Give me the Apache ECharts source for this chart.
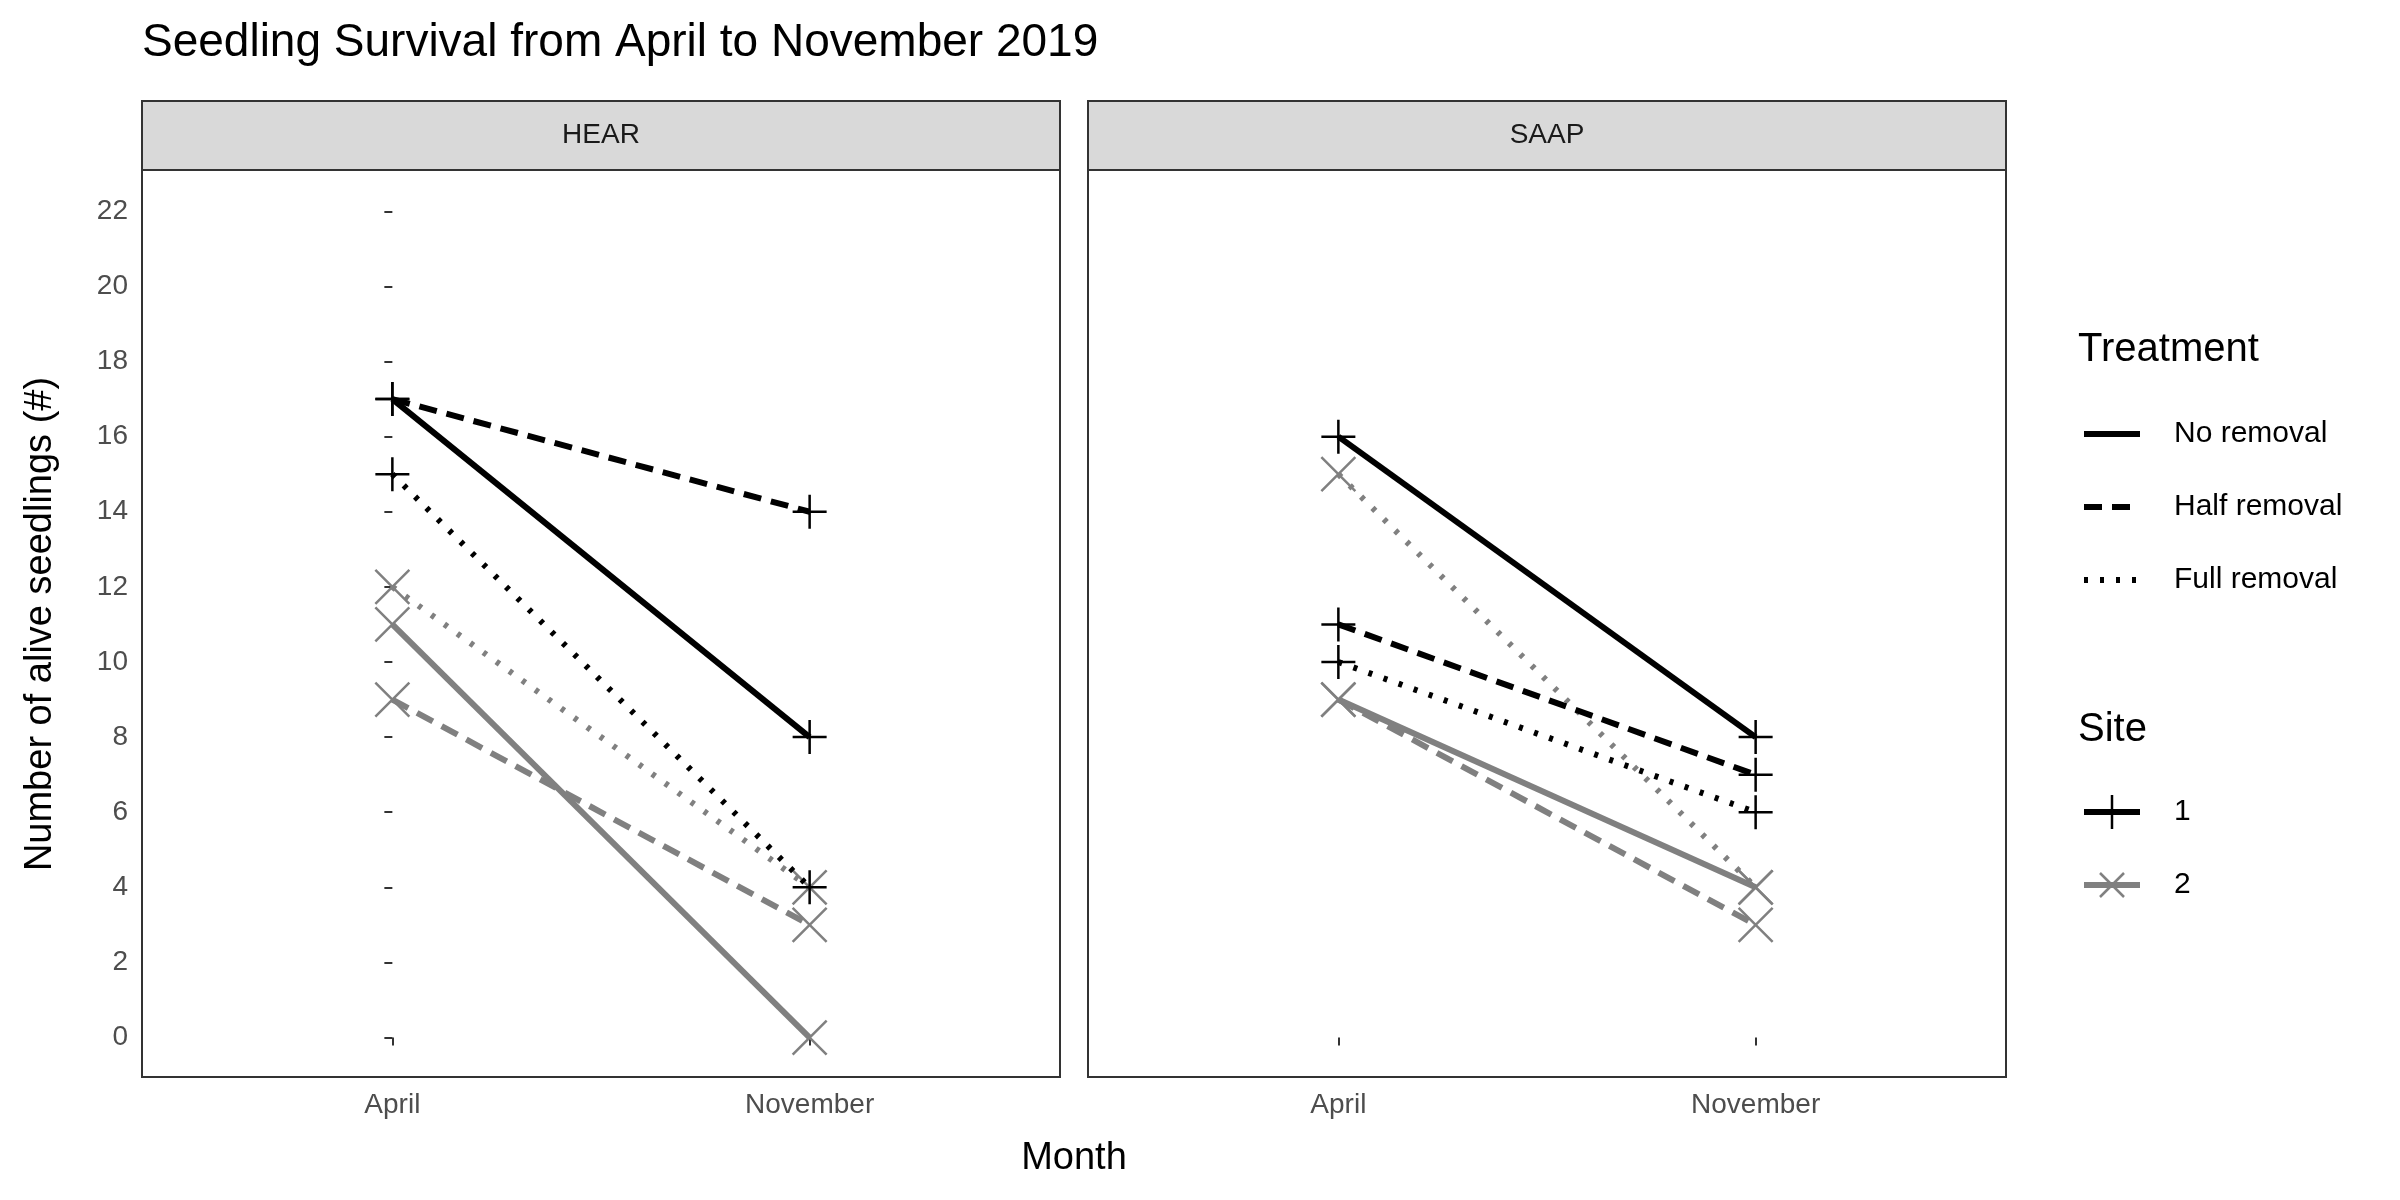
<!DOCTYPE html>
<html>
<head>
<meta charset="utf-8">
<script src="https://cdn.jsdelivr.net/npm/echarts@6/dist/echarts.min.js"></script>
<style>html,body{margin:0;background:#fff}#c{width:2400px;height:1200px}</style>
</head>
<body>
<div id="c"></div>
<script>
var months = ['April', 'November'];
var panels = ['HEAR', 'SAAP'];
var treatments = ['No removal', 'Half removal', 'Full removal'];
var sites = ['1', '2'];
// [treatment] = [April, November]
var hearSite1 = [[17, 8], [17, 14], [15, 4]];
var hearSite2 = [[11, 0], [9, 3], [12, 4]];
var saapSite1 = [[16, 8], [11, 7], [10, 6]];
var saapSite2 = [[9, 4], [9, 3], [15, 4]];
var yTicks = [0, 2, 4, 6, 8, 10, 12, 14, 16, 18, 20, 22];

var plus = 'path://M5,0L5,10M0,5L10,5';
var cross = 'path://M0,0L10,10M10,0L0,10';
var dashes = ['solid', [18, 10], [4, 12]];
var font = 'Liberation Sans, Arial, sans-serif';

var data = [[hearSite1, hearSite2], [saapSite1, saapSite2]];
var series = [];
for (var p = 0; p < 2; p++) {
  for (var s = 0; s < 2; s++) {
    for (var t = 0; t < 3; t++) {
      var v = data[p][s][t];
      series.push({
        type: 'line', xAxisIndex: p, yAxisIndex: p,
        data: [[0, v[0]], [1, v[1]]],
        symbol: s == 0 ? plus : cross, symbolSize: 34,
        lineStyle: { color: s == 0 ? '#000' : '#808080', width: 6, type: dashes[t] },
        itemStyle: { color: 'none', borderColor: s == 0 ? '#000' : '#808080', borderWidth: 2.5 },
        z: s == 0 ? 3 : 2, animation: false
      });
    }
  }
}

var grids = [{ left: 142, width: 918, top: 170, height: 907 }, { left: 1088, width: 918, top: 170, height: 907 }];
var xAxes = [], yAxes = [];
for (var i = 0; i < 2; i++) {
  grids[i].show = true; grids[i].borderColor = '#333'; grids[i].borderWidth = 2;
  xAxes.push({
    type: 'value', gridIndex: i, min: -0.6, max: 1.6,
    axisLine: { show: false }, splitLine: { show: false },
    axisTick: { show: true, length: 8, lineStyle: { color: '#333', width: 2 }, customValues: [0, 1] },
    axisLabel: { customValues: [0, 1], formatter: function (v) { return months[v]; }, color: '#4d4d4d', fontSize: 28, fontFamily: font, margin: 14 }
  });
  yAxes.push({
    type: 'value', gridIndex: i, min: -1.05, max: 23.1,
    axisLine: { show: false }, splitLine: { show: false },
    axisTick: { show: i == 0, length: 8, lineStyle: { color: '#333', width: 2 }, customValues: yTicks },
    axisLabel: { show: i == 0, customValues: yTicks, color: '#4d4d4d', fontSize: 28, fontFamily: font, margin: 14 }
  });
}

var graphic = [
  { type: 'text', x: 142, y: 20, style: { text: 'Seedling Survival from April to November 2019', font: '46px ' + font, fill: '#000' } },
  { type: 'text', x: 1074, y: 1140, style: { text: 'Month', font: '38px ' + font, fill: '#000', textAlign: 'center' } },
  { type: 'text', x: 22, y: 624, rotation: Math.PI / 2, style: { text: 'Number of alive seedlings (#)', font: '38px ' + font, fill: '#000', textAlign: 'center', textVerticalAlign: 'top' } }
];
for (var k = 0; k < 2; k++) {
  graphic.push({ type: 'rect', shape: { x: grids[k].left, y: 101, width: 918, height: 69 }, style: { fill: '#d9d9d9', stroke: '#333', lineWidth: 2 } });
  graphic.push({ type: 'text', x: grids[k].left + 459, y: 135, style: { text: panels[k], font: '28px ' + font, fill: '#1a1a1a', textAlign: 'center', textVerticalAlign: 'middle' } });
}
// legend
graphic.push({ type: 'text', x: 2078, y: 330, style: { text: 'Treatment', font: '40px ' + font, fill: '#000' } });
for (var t = 0; t < 3; t++) {
  var y = 434 + t * 73;
  graphic.push({ type: 'line', shape: { x1: 2084, y1: y, x2: 2140, y2: y }, style: { stroke: '#000', lineWidth: 6, lineDash: dashes[t] == 'solid' ? null : dashes[t] } });
  graphic.push({ type: 'text', x: 2174, y: y, style: { text: treatments[t], font: '30px ' + font, fill: '#000', textVerticalAlign: 'middle' } });
}
graphic.push({ type: 'text', x: 2078, y: 710, style: { text: 'Site', font: '40px ' + font, fill: '#000' } });
for (var s = 0; s < 2; s++) {
  var y2 = 812 + s * 73, col = s == 0 ? '#000' : '#808080';
  graphic.push({ type: 'line', shape: { x1: 2084, y1: y2, x2: 2140, y2: y2 }, style: { stroke: col, lineWidth: 6 } });
  if (s == 0) {
    graphic.push({ type: 'line', shape: { x1: 2112, y1: y2 - 17, x2: 2112, y2: y2 + 17 }, style: { stroke: col, lineWidth: 2.5 } });
  } else {
    graphic.push({ type: 'line', shape: { x1: 2100, y1: y2 - 12, x2: 2124, y2: y2 + 12 }, style: { stroke: col, lineWidth: 2.5 } });
    graphic.push({ type: 'line', shape: { x1: 2124, y1: y2 - 12, x2: 2100, y2: y2 + 12 }, style: { stroke: col, lineWidth: 2.5 } });
  }
  graphic.push({ type: 'text', x: 2174, y: y2, style: { text: sites[s], font: '30px ' + font, fill: '#000', textVerticalAlign: 'middle' } });
}

var chart = echarts.init(document.getElementById('c'));
chart.setOption({
  backgroundColor: '#fff', animation: false,
  grid: grids, xAxis: xAxes, yAxis: yAxes, series: series, graphic: graphic
});
</script>
</body>
</html>
